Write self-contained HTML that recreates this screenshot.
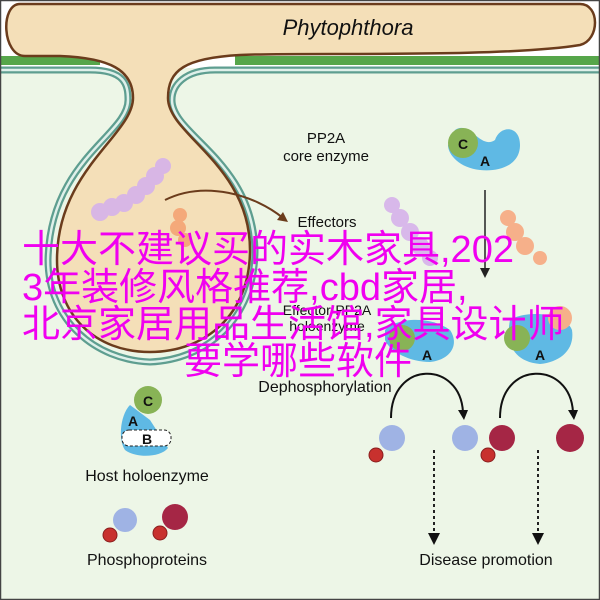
<!DOCTYPE html>
<html><head><meta charset="utf-8"><style>
html,body{margin:0;padding:0;background:#fff}
svg{display:block}
.t{font-family:"Liberation Sans",sans-serif;fill:#111}
.w{font-family:"Liberation Sans","Noto Sans CJK SC",sans-serif;fill:#f000f0;font-size:38px}
</style></head><body>
<svg width="600" height="600" viewBox="0 0 600 600" xmlns="http://www.w3.org/2000/svg">
<rect x="0" y="0" width="600" height="600" fill="#edf6e7"/>
<rect x="0" y="0" width="600" height="68" fill="#fff"/>
<rect x="0" y="56" width="100" height="9" fill="#56a64a"/>
<rect x="235" y="56" width="365" height="9" fill="#56a64a"/>
<path d="M0,70 L90,70 C125,70 128,85 128,100 C128,135 50,160 48,260 C48,320 95,360 150,362 C205,360 255,320 255,250 C252,160 172,135 172,100 C172,85 185,70 215,70 L600,70" fill="none" stroke="#5e9e90" stroke-width="7"/>
<path d="M0,70 L90,70 C125,70 128,85 128,100 C128,135 50,160 48,260 C48,320 95,360 150,362 C205,360 255,320 255,250 C252,160 172,135 172,100 C172,85 185,70 215,70 L600,70" fill="none" stroke="#dff0ea" stroke-width="2.5"/>
<path d="M20,4 L580,4 C600,4 600,40 580,45 C500,58 300,52 240,55 C185,58 168,70 168,98 C168,135 250,165 250,250 C250,315 205,352 150,352 C95,352 57,315 57,260 C57,170 133,135 133,98 C133,70 110,58 60,56 L25,56 C2,56 0,4 20,4 Z" fill="#f4dfb8" stroke="#6b3c1c" stroke-width="2.5"/>
<text x="348" y="35" text-anchor="middle" class="t" font-size="22" font-style="italic">Phytophthora</text>
<g fill="#d5b2ea" opacity="0.9">
<circle cx="100" cy="212" r="9"/><circle cx="112" cy="207" r="9"/><circle cx="124" cy="203" r="9"/><circle cx="136" cy="195" r="9"/><circle cx="146" cy="186" r="9"/><circle cx="155" cy="176" r="9"/><circle cx="163" cy="166" r="8"/>
</g>
<g fill="#f4a97a"><circle cx="180" cy="215" r="7"/><circle cx="178" cy="228" r="8"/><circle cx="185" cy="240" r="7"/></g>
<path d="M165,200 C205,180 255,195 283,218" fill="none" stroke="#6b3c1c" stroke-width="2"/>
<path d="M288,222 L277,220 L283,212 Z" fill="#6b3c1c"/>
<text x="326" y="143" text-anchor="middle" class="t" font-size="15">PP2A</text>
<text x="326" y="161" text-anchor="middle" class="t" font-size="15">core enzyme</text>
<text x="327" y="227" text-anchor="middle" class="t" font-size="15">Effectors</text>
<path d="M455,130 C470,120 480,150 495,140 C500,125 520,125 520,145 C520,165 500,172 480,170 C460,168 448,155 448,145 Z" fill="#5fb9e4"/>
<circle cx="463" cy="143" r="15" fill="#88b356"/>
<text x="463" y="149" text-anchor="middle" class="t" font-size="14" font-weight="bold">C</text>
<text x="485" y="166" text-anchor="middle" class="t" font-size="14" font-weight="bold">A</text>
<line x1="485" y1="190" x2="485" y2="270" stroke="#222" stroke-width="1.5"/>
<path d="M480,268 L490,268 L485,278 Z" fill="#222"/>
<g fill="#d8b8ea"><circle cx="392" cy="205" r="8"/><circle cx="400" cy="218" r="9"/><circle cx="410" cy="232" r="9"/><circle cx="420" cy="246" r="9"/><circle cx="430" cy="258" r="8"/></g>
<g fill="#f6b08a"><circle cx="508" cy="218" r="8"/><circle cx="515" cy="232" r="9"/><circle cx="525" cy="246" r="9"/><circle cx="540" cy="258" r="7"/></g>
<path d="M385,330 C395,318 430,315 450,330 C460,345 450,360 430,362 C410,362 390,352 385,340 Z" fill="#5fb9e4"/>
<circle cx="402" cy="338" r="13" fill="#88b356"/>
<text x="427" y="360" text-anchor="middle" class="t" font-size="14" font-weight="bold">A</text>
<path d="M510,320 C525,310 565,312 572,330 C575,350 560,362 540,364 C515,362 505,345 510,320 Z" fill="#5fb9e4"/>
<circle cx="517" cy="338" r="13" fill="#88b356"/>
<circle cx="560" cy="318" r="12" fill="#f6b08a"/>
<text x="540" y="360" text-anchor="middle" class="t" font-size="14" font-weight="bold">A</text>
<text x="327" y="315" text-anchor="middle" class="t" font-size="14">Effector-PP2A</text>
<text x="327" y="331" text-anchor="middle" class="t" font-size="14">holoenzyme</text>
<text x="325" y="392" text-anchor="middle" class="t" font-size="16">Dephosphorylation</text>
<path d="M391,418 C391,360 460,360 463,412" fill="none" stroke="#111" stroke-width="2"/>
<path d="M458,410 L468,410 L464,420 Z" fill="#111"/>
<path d="M500,418 C500,360 570,360 573,412" fill="none" stroke="#111" stroke-width="2"/>
<path d="M568,410 L578,410 L574,420 Z" fill="#111"/>
<circle cx="392" cy="438" r="13" fill="#9fb3e4"/><circle cx="376" cy="455" r="7" fill="#c8312e" stroke="#8a1e1e"/>
<circle cx="465" cy="438" r="13" fill="#9fb3e4"/>
<circle cx="502" cy="438" r="13" fill="#a52645"/><circle cx="488" cy="455" r="7" fill="#c8312e" stroke="#8a1e1e"/>
<circle cx="570" cy="438" r="14" fill="#a52645"/>
<line x1="434" y1="450" x2="434" y2="535" stroke="#222" stroke-width="2" stroke-dasharray="3,3"/>
<path d="M428,533 L440,533 L434,545 Z" fill="#111"/>
<line x1="538" y1="450" x2="538" y2="535" stroke="#222" stroke-width="2" stroke-dasharray="3,3"/>
<path d="M532,533 L544,533 L538,545 Z" fill="#111"/>
<text x="486" y="565" text-anchor="middle" class="t" font-size="16">Disease promotion</text>
<path d="M130,405 C120,415 118,440 125,450 C135,458 160,458 168,448 L150,420 Z" fill="#5fb9e4"/>
<circle cx="148" cy="400" r="14" fill="#88b356"/>
<text x="148" y="406" text-anchor="middle" class="t" font-size="14" font-weight="bold">C</text>
<text x="133" y="426" text-anchor="middle" class="t" font-size="14" font-weight="bold">A</text>
<rect x="122" y="430" width="49" height="16" rx="7" fill="#fff" stroke="#222" stroke-dasharray="3,2"/>
<text x="147" y="444" text-anchor="middle" class="t" font-size="14" font-weight="bold">B</text>
<text x="147" y="481" text-anchor="middle" class="t" font-size="16">Host holoenzyme</text>
<circle cx="125" cy="520" r="12" fill="#9fb3e4"/><circle cx="110" cy="535" r="7" fill="#c8312e" stroke="#8a1e1e"/>
<circle cx="175" cy="517" r="13" fill="#a52645"/><circle cx="160" cy="533" r="7" fill="#c8312e" stroke="#8a1e1e"/>
<text x="147" y="565" text-anchor="middle" class="t" font-size="16">Phosphoproteins</text>
<rect x="0.5" y="0.5" width="599" height="599" fill="none" stroke="#444" stroke-width="1.5"/>
<text x="22" y="262" class="w">十大不建议买的实木家具,202</text>
<text x="22" y="300" class="w">3年装修风格推荐,cbd家居,</text>
<text x="22" y="337" class="w">北京家居用品生活馆,家具设计师</text>
<text x="298" y="374" text-anchor="middle" class="w">要学哪些软件</text>
</svg>
</body></html>
